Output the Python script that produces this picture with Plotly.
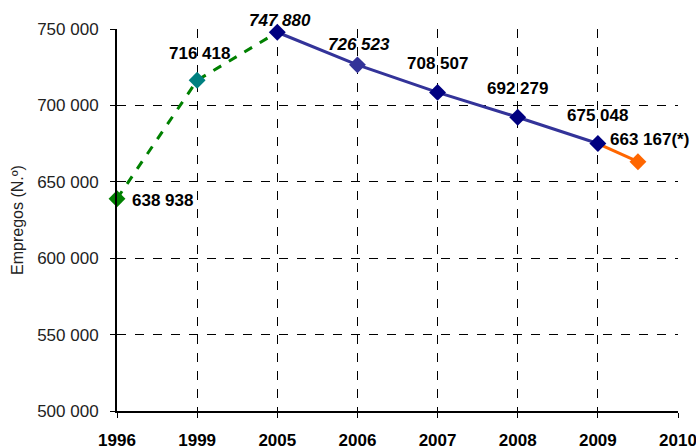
import plotly.graph_objects as go

years = ["1996", "1999", "2005", "2006", "2007", "2008", "2009", "2010"]
empregos = [638938, 716418, 747880, 726523, 708507, 692279, 675048]
estimate_value = 663167
estimate_pos = 6.5  # between 2009 and 2010

xs = list(range(len(empregos)))

def fmt(v):
    return f"{v:,}".replace(",", " ")

FONT = "Liberation Sans, Arial, Helvetica"

fig = go.Figure()

fig.add_trace(go.Scatter(x=xs[:3], y=empregos[:3], mode="lines",
                         line=dict(color="#008000", width=3, dash="dash"),
                         cliponaxis=False, hoverinfo="skip"))
fig.add_trace(go.Scatter(x=xs[2:], y=empregos[2:], mode="lines",
                         line=dict(color="#333399", width=3),
                         cliponaxis=False, hoverinfo="skip"))
fig.add_trace(go.Scatter(x=[xs[-1], estimate_pos], y=[empregos[-1], estimate_value], mode="lines",
                         line=dict(color="#FF6600", width=3),
                         cliponaxis=False, hoverinfo="skip"))
mcolors = ["#008000", "#008080"] + ["#000080"] * 5
mcolors[3] = "#333399"
fig.add_trace(go.Scatter(x=xs, y=empregos, mode="markers",
                         marker=dict(symbol="diamond", size=13, color=mcolors),
                         cliponaxis=False))
fig.add_trace(go.Scatter(x=[estimate_pos], y=[estimate_value], mode="markers",
                         marker=dict(symbol="diamond", size=13, color="#FF6600"),
                         cliponaxis=False))

offsets = [(45, -2), (2, 27), (3, 12), (2, 20), (0, 29), (0, 29), (0, 28)]
italic = [False, False, True, True, False, False, False]
for x, v, (dx, dy), it in zip(xs, empregos, offsets, italic):
    t = fmt(v)
    if it:
        t = f"<i>{t}</i>"
    fig.add_annotation(x=x, y=v, text=f"<b>{t}</b>", showarrow=False,
                       xshift=dx, yshift=dy,
                       font=dict(family=FONT, size=17, color="#000"))
fig.add_annotation(x=estimate_pos, y=estimate_value, text=f"<b>{fmt(estimate_value)}(*)</b>",
                   showarrow=False, xshift=12, yshift=22,
                   font=dict(family=FONT, size=17, color="#000"))

fig.update_layout(
    width=696, height=448,
    margin=dict(l=117, r=18, t=29, b=37, autoexpand=False),
    paper_bgcolor="white", plot_bgcolor="white",
    showlegend=False,
    separators=", ",
    font=dict(family=FONT, color="#000"),
)
fig.update_xaxes(
    range=[0, 7], tickvals=list(range(len(years))), ticktext=[f"<b>{y}</b>" for y in years],
    showgrid=True, gridcolor="#000", griddash="dash", gridwidth=1,
    showline=True, linecolor="#000", linewidth=2,
    ticks="outside", ticklen=5, tickcolor="#000",
    ticklabelstandoff=8, ticklabeloverflow="allow",
    tickfont=dict(size=17, color="#000"), zeroline=False,
)
fig.update_yaxes(
    range=[500000, 750000], dtick=50000, tickformat=",d",
    showgrid=True, gridcolor="#000", griddash="dash", gridwidth=1,
    showline=True, linecolor="#000", linewidth=2,
    ticks="outside", ticklen=5, tickcolor="#000",
    ticklabelstandoff=8,
    tickfont=dict(size=17, color="#222"), zeroline=False,
    title=dict(text="Empregos (N.º)", font=dict(size=16, color="#222"), standoff=10),
)

fig.write_html("out.html", config={"displayModeBar": False},
               post_script="document.body.style.margin='0';document.body.style.overflow='hidden';")
